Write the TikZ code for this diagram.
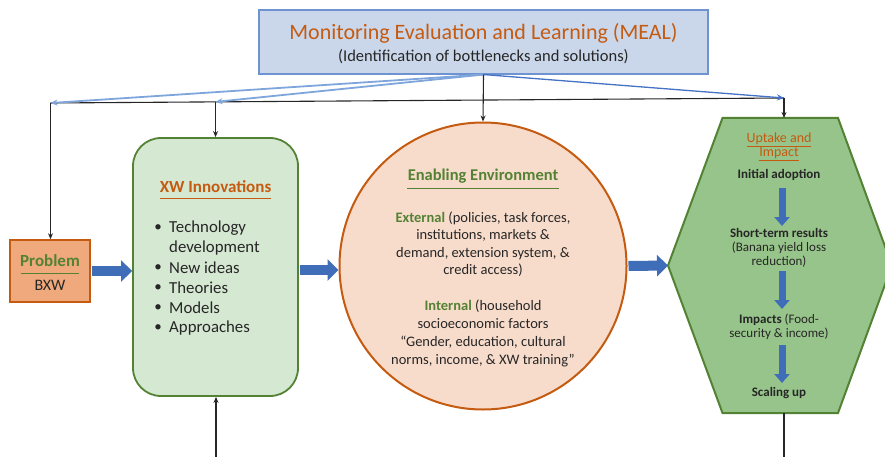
\documentclass[tikz,border=0pt]{standalone}
\usepackage{fontspec}
\setmainfont{Carlito}
\usetikzlibrary{arrows.meta,calc}
\definecolor{orng}{HTML}{C55A11}
\definecolor{grn}{HTML}{548235}
\definecolor{xwfill}{HTML}{D5E8D2}
\definecolor{probfill}{HTML}{F0A97C}
\definecolor{circfill}{HTML}{F8DCCB}
\definecolor{hexfill}{HTML}{97C48A}
\definecolor{mealfill}{HTML}{CAD7EA}
\definecolor{mealdraw}{HTML}{6F93D0}
\definecolor{lblue}{HTML}{7EA6DC}
\definecolor{dblue}{HTML}{4472C4}
\definecolor{barrow}{HTML}{3F6DB8}
\definecolor{txt}{HTML}{262626}
\begin{document}
\begin{tikzpicture}[x=1pt,y=-1pt,
  blk/.style={draw=black!85, line width=1.1pt},
  tipb/.style={-{Stealth[length=6pt,width=5pt]}},
  lb/.style={draw=lblue, line width=1.8pt, -{Stealth[length=7pt,width=6pt]}},
  db/.style={draw=dblue, line width=1.3pt, -{Stealth[length=7pt,width=6pt]}},
  block/.style={draw=barrow, line width=10pt, -{Triangle[length=11pt,width=21pt]}},
  smallblock/.style={draw=barrow, line width=7pt, -{Triangle[length=9pt,width=15pt]}},
  body/.style={text=txt, inner sep=0pt},
  mealbox/.style={draw=mealdraw, fill=mealfill, line width=1.1pt, minimum width=449pt, minimum height=64pt, inner sep=0pt},
  probbox/.style={draw=orng, fill=probfill, line width=1.6pt, minimum width=80pt, minimum height=62pt, inner sep=0pt},
  xwbox/.style={draw=grn, fill=xwfill, line width=1.8pt, rounded corners=28pt, minimum width=165pt, minimum height=258pt, inner sep=0pt},
  envbox/.style={circle, draw=orng, fill=circfill, line width=2pt, minimum size=287pt, inner sep=0pt},
]
\useasboundingbox (0,0) rectangle (885,457);

% MEAL
\node[mealbox] (meal) at (483.5,42) {};
\node[inner sep=0pt, text=orng, font=\fontsize{22}{26}\selectfont] (mealt) at (483.5,33) {Monitoring Evaluation and Learning (MEAL)};
\node[body, font=\fontsize{16.5}{19}\selectfont] (meals) at (483.5,57) {(Identification of bottlenecks and solutions)};

% Problem
\node[probbox] (prob) at (50,271) {};
\node[inner sep=0pt, text=grn, font=\bfseries\fontsize{17}{20}\selectfont] (probt) at (50,261) {Problem};
\draw[grn, line width=1pt] (21,273) -- (79,273);
\node[body, font=\fontsize{16}{19}\selectfont] (bxw) at (50,285) {BXW};

% XW innovations
\node[xwbox] (xw) at (215.5,267) {};
\node[inner sep=0pt, text=orng, font=\bfseries\fontsize{17}{20}\selectfont] (xwt) at (215.5,187) {XW Innovations};
\draw[orng, line width=1pt] (160,198) -- (271,198);
\foreach \y/\t/\b [count=\i] in {228/Technology/1, 248/development/0, 268/New ideas/1, 288/Theories/1, 308/Models/1, 328/Approaches/1}{
  \node[body, anchor=west, font=\fontsize{16.8}{20}\selectfont] (li\i) at (169,\y) {\t};
  \ifnum\b=1 \node[body, font=\fontsize{15}{18}\selectfont] (bu\i) at (158,\y) {\textbullet};\fi
}

% Enabling environment
\node[envbox] (env) at (483,266) {};
\node[inner sep=0pt, text=grn, font=\bfseries\fontsize{16.5}{20}\selectfont] (envt) at (483,176) {Enabling Environment};
\draw[grn, line width=1pt] (407,188) -- (559,188);
\node[body, align=center, font=\fontsize{14.5}{17.5}\selectfont] (ext) at (483,244) {{\color{grn}\bfseries External} (policies, task forces,\\ institutions, markets \&\\ demand, extension system, \&\\ credit access)};
\node[body, align=center, font=\fontsize{14.5}{18}\selectfont] (int) at (483,333) {{\color{grn}\bfseries Internal} (household\\ socioeconomic factors\\ “Gender, education, cultural\\ norms, income, \& XW training”};

% Hexagon
\coordinate (hexW) at (668,265.5);
\coordinate (hexNW) at (722.5,118);
\coordinate (hexNE) at (838,118);
\coordinate (hexE) at (892,265.5);
\coordinate (hexSE) at (838,413);
\coordinate (hexSW) at (722.5,413);
\draw[draw=grn, fill=hexfill, line width=2pt, line join=miter] (hexW) -- (hexNW) -- (hexNE) -- (hexE) -- (hexSE) -- (hexSW) -- cycle;
\node[inner sep=0pt, text=orng, align=center, font=\fontsize{14}{14.5}\selectfont] (upt) at (779,147) {\underline{Uptake and}\\ \underline{Impact}};
\node[body, font=\bfseries\fontsize{13}{14}\selectfont] (ini) at (779,175) {Initial adoption};
\node[body, align=center, font=\fontsize{13}{14}\selectfont] (sht) at (779,248) {\textbf{Short-term results}\\ (Banana yield loss\\ reduction)};
\node[body, align=center, font=\fontsize{13}{14}\selectfont] (imp) at (779,327) {\textbf{Impacts} (Food-\\ security \& income)};
\node[body, font=\bfseries\fontsize{13}{14}\selectfont] (scl) at (779,393) {Scaling up};
\coordinate (a1s) at (782,188); \coordinate (a1e) at (782,226);
\coordinate (a2s) at (782,271); \coordinate (a2e) at (782,309);
\coordinate (a3s) at (782,345); \coordinate (a3e) at (782,383);
\draw[smallblock] (a1s) -- (a1e);
\draw[smallblock] (a2s) -- (a2e);
\draw[smallblock] (a3s) -- (a3e);

% block arrows
\draw[block] (prob.east) ++(1.5,0) coordinate (pa) -- (xw.west |- pa);
\coordinate (xa) at (xw.east |- 0,270);
\draw[block] ($(xa)+(1,0)$) -- (env.west |- xa);
\coordinate (ea) at (env.east |- 0,266);
\draw[block] ($(ea)+(1,0)$) -- (hexW);

% MEAL connectors
\coordinate (jL) at (50.5,103);
\coordinate (jR) at (784,98);
\coordinate (jM) at ($(jL)!0.225!(jR)$);
\draw[blk] (jL) -- (jR);
\draw[lb] (meal.south) -- (jL);
\draw[lb] (meal.south) -- (jM);
\draw[db] (meal.south) -- (jR);
\draw[blk, tipb] (meal.south) -- (env.north);
\draw[blk, tipb] (jL) -- (jL |- prob.north);
\draw[blk, tipb] (jM) -- (jM |- xw.north);
\draw[blk, tipb] (jR) -- (jR |- hexNE);

% bottom connectors
\coordinate (bL) at (216,457);
\draw[blk, tipb] (bL) -- (bL |- xw.south);
\coordinate (bR) at (784,457);
\draw[blk] (bR |- hexSE) -- (bR);
\end{tikzpicture}
\end{document}
